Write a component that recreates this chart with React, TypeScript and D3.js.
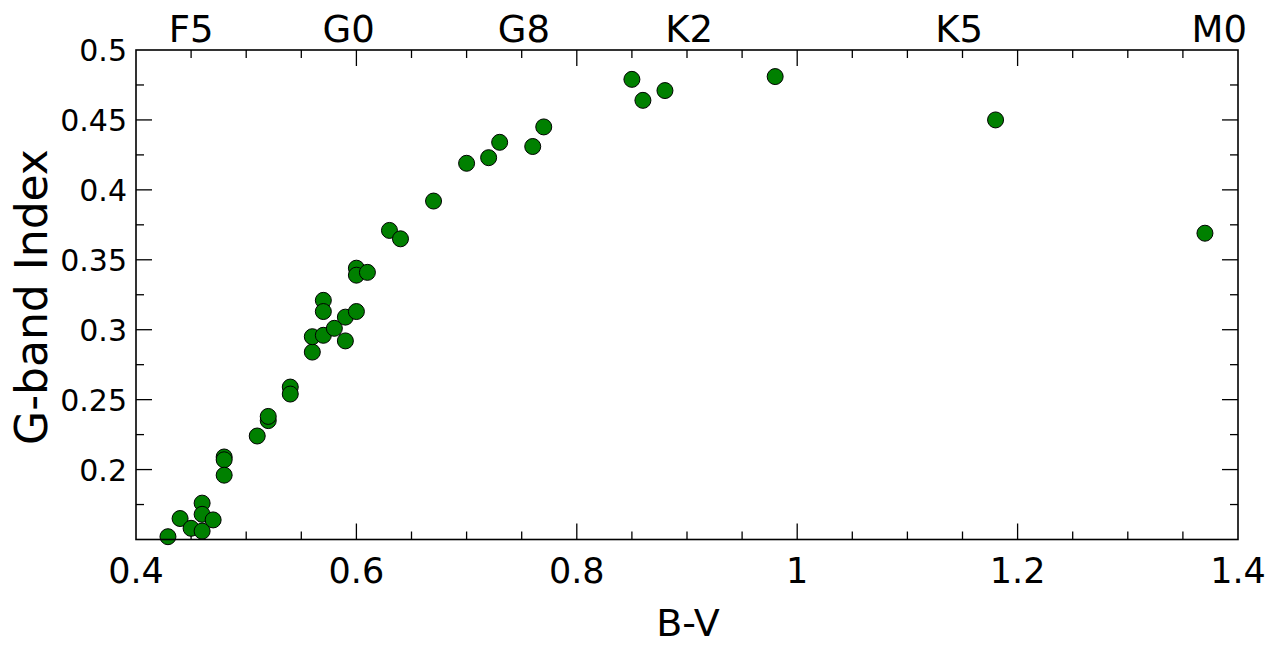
import React from "react";
import * as d3 from "d3";

const bv: number[] = [0.429, 0.44, 0.45, 0.46, 0.46, 0.46, 0.47, 0.48, 0.48, 0.48, 0.51, 0.52, 0.52, 0.54, 0.54, 0.56, 0.56, 0.57, 0.57, 0.57, 0.58, 0.59, 0.59, 0.60, 0.60, 0.60, 0.61, 0.63, 0.64, 0.67, 0.70, 0.72, 0.73, 0.76, 0.77, 0.85, 0.86, 0.88, 0.98, 1.18, 1.37];
const gband: number[] = [0.152, 0.165, 0.158, 0.176, 0.168, 0.156, 0.164, 0.209, 0.207, 0.196, 0.224, 0.235, 0.238, 0.259, 0.254, 0.284, 0.295, 0.321, 0.313, 0.296, 0.301, 0.309, 0.292, 0.313, 0.344, 0.339, 0.341, 0.371, 0.365, 0.392, 0.419, 0.423, 0.434, 0.431, 0.445, 0.479, 0.464, 0.471, 0.481, 0.45, 0.369];
const xTickLabels: number[] = [0.4, 0.6, 0.8, 1.0, 1.2, 1.4];
const yTickLabels: number[] = [0.2, 0.25, 0.3, 0.35, 0.4, 0.45, 0.5];
const spectralTypes: string[] = ["F5", "G0", "G8", "K2", "K5", "M0"];
const spectralBV: number[] = [0.45, 0.593, 0.752, 0.902, 1.147, 1.383];

const W = 1265, H = 646;
const L = 136, R = 1238, T = 50, B = 539.5;
const FONT = "DejaVu Sans";

export default function App() {
  const x = d3.scaleLinear().domain([0.4, 1.4]).range([L, R]);
  const y = d3.scaleLinear().domain([0.15, 0.5]).range([B, T]);
  const xMinor = d3.range(0, 21).map((i) => 0.4 + i * 0.05);
  const yMinor = d3.range(0, 15).map((i) => 0.15 + i * 0.025);
  const isMajorX = (v: number) => xTickLabels.some((m) => Math.abs(m - v) < 1e-6);
  const isMajorY = (v: number) => yTickLabels.some((m) => Math.abs(m - v) < 1e-6) || Math.abs(v - 0.15) < 1e-6;
  const fmt = (v: number) => {
    const s = d3.format(".2f")(v).replace(/0+$/, "").replace(/\.$/, "");
    return s;
  };
  return (
    <svg width={W} height={H} style={{ position: "absolute", left: 0, top: 0 }} fontFamily={FONT}>
      <rect x={0} y={0} width={W} height={H} fill="white" />
      {xMinor.filter((v) => v > 0.4001 && v < 1.3999).map((v, i) => {
        const len = isMajorX(v) ? 16 : 8;
        return (
          <g key={"xt" + i} stroke="black" strokeWidth={1.3}>
            <line x1={x(v)} x2={x(v)} y1={B} y2={B - len} />
            <line x1={x(v)} x2={x(v)} y1={T} y2={T + len} />
          </g>
        );
      })}
      {yMinor.filter((v) => v > 0.1501 && v < 0.4999).map((v, i) => {
        const len = isMajorY(v) ? 16 : 8;
        return (
          <g key={"yt" + i} stroke="black" strokeWidth={1.3}>
            <line x1={L} x2={L + len} y1={y(v)} y2={y(v)} />
            <line x1={R} x2={R - len} y1={y(v)} y2={y(v)} />
          </g>
        );
      })}
      {bv.map((v, i) => (
        <circle key={"p" + i} cx={x(v)} cy={y(gband[i])} r={8} fill="#008000" stroke="black" strokeWidth={1} />
      ))}
      <rect x={L} y={T} width={R - L} height={B - T} fill="none" stroke="black" strokeWidth={1.6} />
      {xTickLabels.map((v, i) => (
        <text key={"xl" + i} x={x(v)} y={583} textAnchor="middle" fontSize={35}>{fmt(v)}</text>
      ))}
      {yTickLabels.map((v, i) => (
        <text key={"yl" + i} x={L - 9} y={y(v) + 11} textAnchor="end" fontSize={30}>{fmt(v)}</text>
      ))}
      {spectralTypes.map((s, i) => (
        <text key={"st" + i} x={x(spectralBV[i])} y={42} textAnchor="middle" fontSize={37}>{s}</text>
      ))}
      <text x={688} y={636} textAnchor="middle" fontSize={38}>B-V</text>
      <text transform={`translate(47,297) rotate(-90)`} textAnchor="middle" fontSize={44}>G-band Index</text>
    </svg>
  );
}
